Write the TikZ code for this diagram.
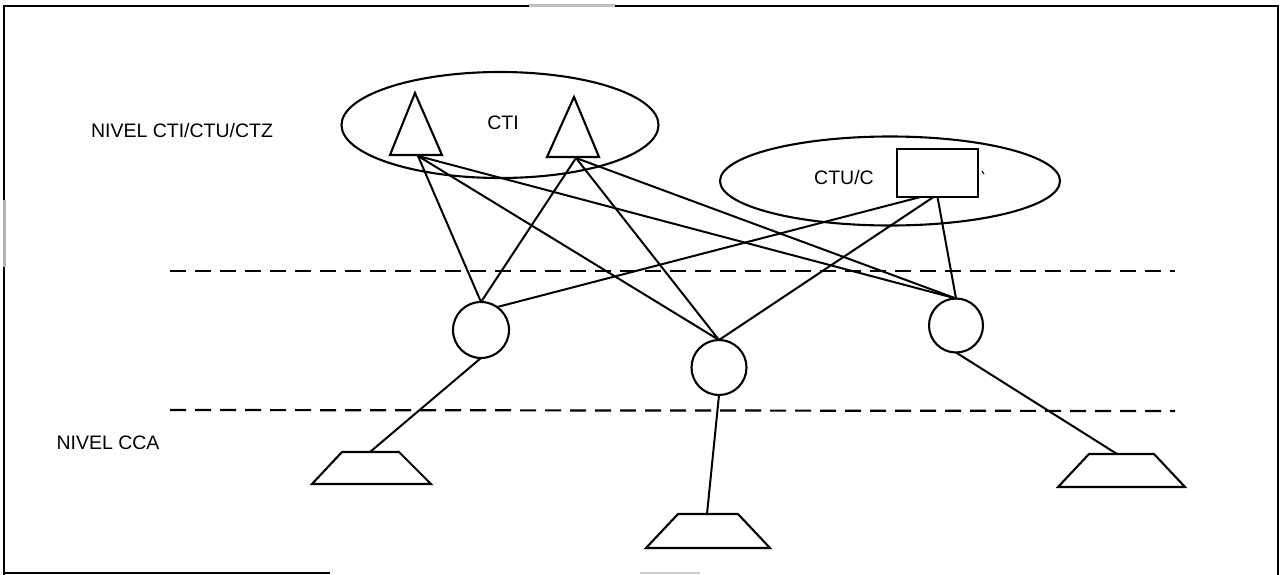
\documentclass[tikz,border=0pt]{standalone}
\usepackage{fontspec}
\setmainfont{Liberation Sans}
\usetikzlibrary{shapes.geometric}
\begin{document}
\begin{tikzpicture}[x=1pt,y=-1pt,
  shp/.style={draw, line width=2.1pt, inner sep=0pt, outer sep=0pt},
  link/.style={line width=2pt},
  lvl/.style={line width=2.2pt, dash pattern=on 16pt off 9pt},
  frame/.style={line width=2.2pt},
  lbl/.style={font=\fontsize{19.5}{22}\selectfont, inner sep=0pt}]
\useasboundingbox (0,0) rectangle (1284,575);
% frame
\draw[frame] (4,575) -- (4,6) -- (1278,6) -- (1278,575);
\draw[frame] (4,573) -- (330,573);
\draw[line width=3pt, gray!60] (4,200) -- (4,267);
\draw[line width=2pt, gray!40] (640,573) -- (700,573);
\draw[line width=3pt, gray!50] (529,6) -- (615,6);
% labels
\node[lbl] (lv1) at (182,131) {NIVEL CTI/CTU/CTZ};
\node[lbl] (lv2) at (108,443) {NIVEL CCA};
% level separators
\coordinate (d1a) at (170,271);
\coordinate (d1b) at (1175,271);
\coordinate (d2a) at (170,410);
\coordinate (d2b) at (1175,411);
\draw[lvl] (d1a) -- (d1b);
\draw[lvl] (d2a) -- (d2b);
% CTI group
\node[shp, ellipse, minimum width=317pt, minimum height=106pt] (e1) at (500,125) {};
\node[lbl] (cti) at (503,123) {CTI};
\draw[shp, line join=miter] (415,93) -- (442,155) -- (390,155) -- cycle;
\draw[shp, line join=miter] (574,97) -- (599,157) -- (547,157) -- cycle;
\coordinate (t1) at (418,156);
\coordinate (t2) at (576,158);
% CTU/C group
\node[shp, ellipse, minimum width=340pt, minimum height=89pt] (e2) at (890,181) {};
\node[lbl] (ctuc) at (844,178) {CTU/C};
\node[shp, rectangle, minimum width=81pt, minimum height=48pt] (box) at (937.5,173) {};
\draw[line width=1pt] (982,171) -- (984,174);
% circles
\node[shp, circle, minimum size=56pt] (c1) at (481,330) {};
\node[shp, circle, minimum size=55pt] (c2) at (719,367.5) {};
\node[shp, circle, minimum size=54pt] (c3) at (956,325.5) {};
% trapezia
\draw[shp] (342,452) -- (399,452) -- (431,484) -- (312,484) -- cycle;
\draw[shp] (678,514) -- (738,514) -- (770,548) -- (646,548) -- cycle;
\draw[shp] (1089,454) -- (1154,454) -- (1185,487) -- (1058,487) -- cycle;
\coordinate (p1) at (370,452);
\coordinate (p2) at (707,514);
\coordinate (p3) at (1117,454);
% connectors
\draw[link] (t1) -- (c1.north);
\draw[link] (t1) -- (c2.north);
\draw[link] (t1) -- (c3.north);
\draw[link] (t2) -- (c1.north);
\draw[link] (t2) -- (c2.north);
\draw[link] (t2) -- (c3.north);
\draw[link] ([xshift=-17pt]box.south) -- (c1.55);
\draw[link] ([xshift=-4pt]box.south) -- (c2.north);
\draw[link] (box.south) -- (c3.north);
\draw[link] (c1.south) -- (p1);
\draw[link] (c2.south) -- (p2);
\draw[link] (c3.south) -- (p3);
\end{tikzpicture}
\end{document}
